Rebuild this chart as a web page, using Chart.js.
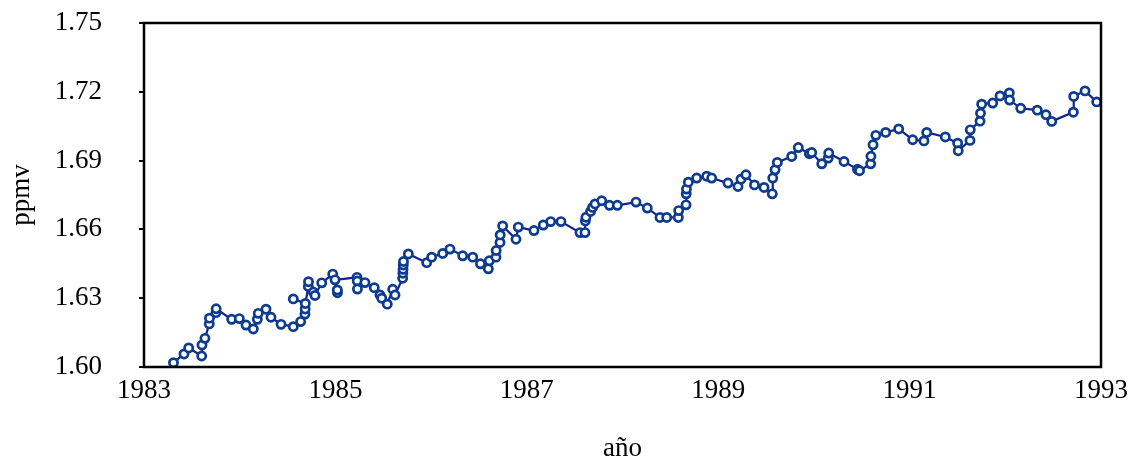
<!DOCTYPE html>
<html>
<head>
<meta charset="utf-8">
<script src="https://cdn.jsdelivr.net/npm/chart.js@4.4.0/dist/chart.umd.min.js"></script>
<style>
  html, body { margin: 0; padding: 0; background: #fff; }
  #wrap { width: 1130px; height: 460px; }
</style>
</head>
<body>
<div id="wrap"><canvas id="grafico"></canvas></div>
<script>
// --- DADOS ---
const anos = [
  1983.308, 1983.418, 1983.467, 1983.603, 1983.606, 1983.637, 1983.682, 1983.684, 1983.752, 1983.754,
  1983.916, 1983.996, 1984.066, 1984.142, 1984.184, 1984.194, 1984.275, 1984.327, 1984.432, 1984.560,
  1984.637, 1984.682, 1984.684, 1984.620, 1984.560, 1984.686, 1984.717, 1984.719, 1984.769, 1984.787,
  1984.857, 1984.972, 1985.022, 1985.020, 1984.996, 1985.226, 1985.228, 1985.230, 1985.309, 1985.406,
  1985.466, 1985.484, 1985.542, 1985.599, 1985.623, 1985.703, 1985.705, 1985.707, 1985.709, 1985.711,
  1985.762, 1985.954, 1986.006, 1986.121, 1986.197, 1986.330, 1986.435, 1986.516, 1986.598, 1986.608,
  1986.678, 1986.680, 1986.720, 1986.722, 1986.748, 1986.887, 1986.911, 1987.075, 1987.172, 1987.250,
  1987.357, 1987.556, 1987.608, 1987.612, 1987.618, 1987.666, 1987.687, 1987.713, 1987.783, 1987.864,
  1987.946, 1988.141, 1988.259, 1988.392, 1988.462, 1988.583, 1988.587, 1988.664, 1988.666, 1988.668,
  1988.688, 1988.775, 1988.880, 1988.932, 1989.102, 1989.207, 1989.238, 1989.290, 1989.379, 1989.479,
  1989.565, 1989.570, 1989.594, 1989.618, 1989.768, 1989.837, 1989.952, 1989.977, 1990.082, 1990.150,
  1990.155, 1990.315, 1990.455, 1990.477, 1990.593, 1990.596, 1990.618, 1990.647, 1990.750, 1990.886,
  1991.032, 1991.150, 1991.179, 1991.373, 1991.502, 1991.508, 1991.631, 1991.634, 1991.736, 1991.741,
  1991.753, 1991.868, 1991.945, 1992.042, 1992.045, 1992.161, 1992.334, 1992.425, 1992.485, 1992.711,
  1992.715, 1992.833, 1992.955
];
// null = interrupção da linha
const metano = [
  1.6019, 1.6057, 1.6083, 1.6048, 1.6096, 1.6125, 1.6188, 1.6213, 1.6237, 1.6254,
  1.6208, 1.6211, 1.6183, 1.6166, 1.6208, 1.6234, 1.6252, 1.6217, 1.6186, 1.6176,
  1.6198, 1.6231, 1.6253, null,   1.6297, 1.6277, 1.6351, 1.6372, 1.6327, 1.6312,
  1.6367, 1.6405, 1.6324, 1.6336, 1.6380, 1.6391, 1.6375, 1.6340, 1.6368, 1.6346,
  1.6314, 1.6300, 1.6274, 1.6339, 1.6314, 1.6387, 1.6409, 1.6426, 1.6445, 1.6460,
  1.6493, 1.6455, 1.6479, 1.6495, 1.6514, 1.6485, 1.6479, 1.6450, 1.6428, 1.6463,
  1.6479, 1.6508, 1.6543, 1.6576, 1.6615, 1.6557, 1.6610, 1.6595, 1.6619, 1.6634,
  1.6634, 1.6586, 1.6586, 1.6637, 1.6653, 1.6678, 1.6696, 1.6711, 1.6725, 1.6705,
  1.6705, 1.6719, 1.6693, 1.6652, 1.6652, 1.6652, 1.6682, 1.6707, 1.6755, 1.6776,
  1.6806, 1.6824, 1.6832, 1.6824, 1.6802, 1.6787, 1.6819, 1.6838, 1.6794, 1.6783,
  1.6755, 1.6824, 1.6860, 1.6892, 1.6918, 1.6957, 1.6930, 1.6935, 1.6886, 1.6911,
  1.6933, 1.6896, 1.6862, 1.6856, 1.6886, 1.6919, 1.6969, 1.7010, 1.7023, 1.7038,
  1.6991, 1.6986, 1.7023, 1.7003, 1.6976, 1.6943, 1.6988, 1.7034, 1.7072, 1.7107,
  1.7146, 1.7151, 1.7182, 1.7195, 1.7164, 1.7128, 1.7120, 1.7100, 1.7071, 1.7111,
  1.7180, 1.7204, 1.7156
];
const ticksAno = [1983, 1985, 1987, 1989, 1991, 1993];
const ticksPpmv = [1.60, 1.63, 1.66, 1.69, 1.72, 1.75];

const fonte = { family: '"Liberation Serif", "Times New Roman", serif', size: 27 };

// moldura em volta da área do gráfico
const moldura = {
  id: 'moldura',
  afterDraw(chart) {
    const { ctx, chartArea: a } = chart;
    ctx.save();
    ctx.strokeStyle = '#000';
    ctx.lineWidth = 2.5;
    ctx.strokeRect(a.left, a.top, a.right - a.left, a.bottom - a.top);
    ctx.restore();
  }
};

const pontos = anos.map((x, i) => ({ x: x, y: metano[i] }));

new Chart(document.getElementById('grafico'), {
  type: 'scatter',
  data: {
    datasets: [{
      data: pontos,
      showLine: true,
      spanGaps: false,
      borderColor: '#16208f',
      borderWidth: 2.2,
      pointRadius: 4.1,
      pointBorderWidth: 2.7,
      pointBorderColor: '#0d3b8e',
      pointBackgroundColor: '#ffffff',
      pointHoverRadius: 4.1
    }]
  },
  options: {
    responsive: true,
    maintainAspectRatio: false,
    animation: false,
    layout: { padding: { top: 23, right: 29, left: 0, bottom: 0 } },
    plugins: { legend: { display: false }, tooltip: { enabled: false } },
    scales: {
      x: {
        type: 'linear',
        min: 1983,
        max: 1993,
        afterBuildTicks: s => { s.ticks = ticksAno.map(v => ({ value: v })); },
        afterFit: s => { s.height = 93; s.paddingLeft = 0; s.paddingRight = 0; },
        border: { display: false },
        grid: { display: false, drawTicks: false },
        ticks: {
          color: '#000',
          font: fonte,
          padding: 8,
          maxRotation: 0,
          callback: v => String(v)
        },
        title: { display: true, text: 'año', color: '#000', font: { ...fonte, lineHeight: 0.8 }, padding: 0 }
      },
      y: {
        min: 1.60,
        max: 1.75,
        afterBuildTicks: s => { s.ticks = ticksPpmv.map(v => ({ value: v })); },
        afterFit: s => { s.width = 144; s.paddingTop = 0; s.paddingBottom = 0; },
        border: { display: false },
        grid: { drawOnChartArea: false, drawTicks: true, tickLength: 5, color: '#000', lineWidth: 2 },
        ticks: {
          color: '#000',
          font: fonte,
          padding: 37,
          callback: v => v.toFixed(2)
        },
        title: { display: true, text: 'ppmv', color: '#000', font: fonte, padding: { top: 6, bottom: 0 } }
      }
    }
  },
  plugins: [moldura]
});
</script>
</body>
</html>
